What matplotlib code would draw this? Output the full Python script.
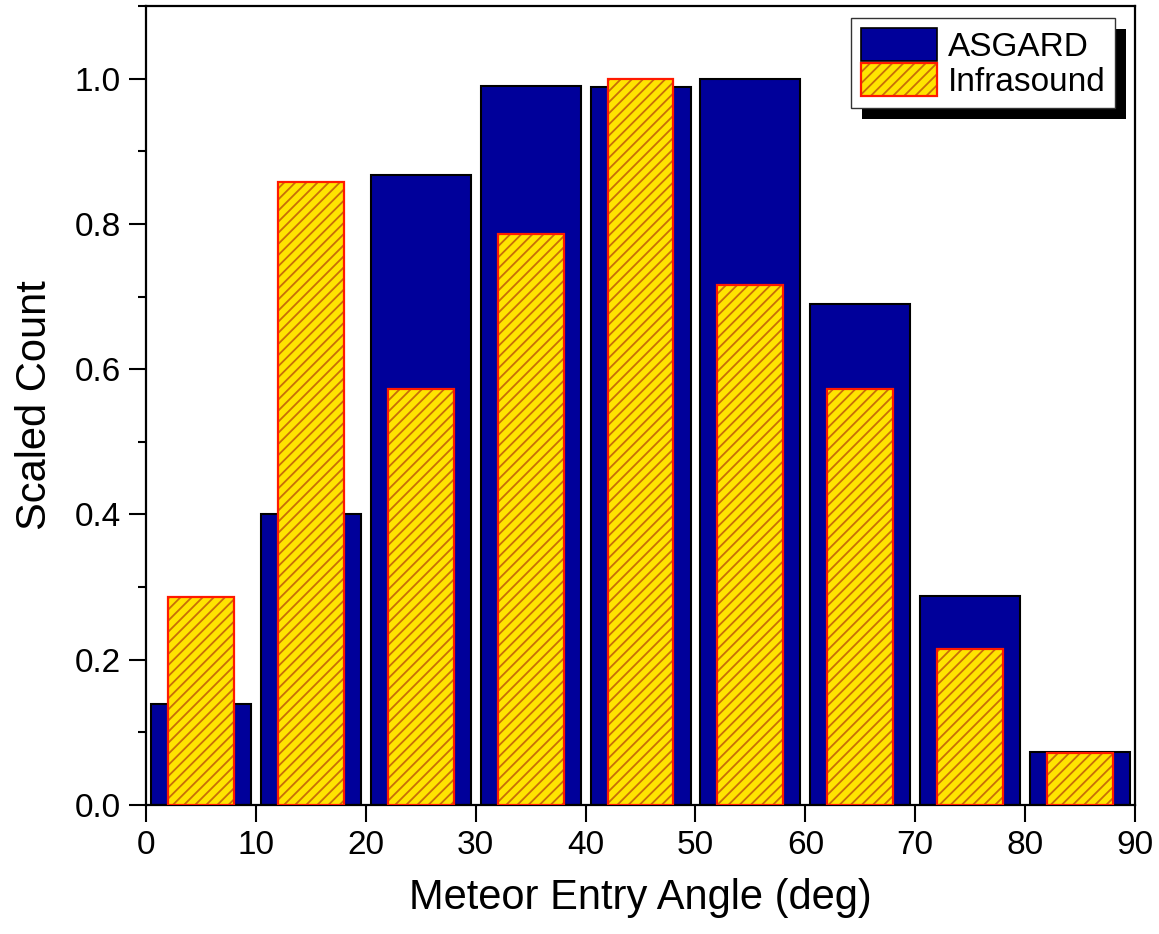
import matplotlib
matplotlib.use("Agg")
import matplotlib.pyplot as plt
from matplotlib.patches import Patch, Rectangle
from matplotlib.ticker import MultipleLocator
import numpy as np

plt.rcParams["font.family"] = ["Liberation Sans", "DejaVu Sans"]
plt.rcParams["hatch.linewidth"] = 1.3

# entry-angle bins (deg), 10 deg wide
bin_centers = [5, 15, 25, 35, 45, 55, 65, 75, 85]
asgard = [0.139, 0.401, 0.868, 0.990, 0.988, 1.000, 0.690, 0.288, 0.073]
infrasound = [0.286, 0.857, 0.573, 0.786, 1.000, 0.716, 0.573, 0.215, 0.072]

BLUE = "#00009A"
YELLOW = "#FFE400"
HATCH = "#C86E08"
RED = "#FF1A00"

fig = plt.figure(figsize=(11.59, 9.34), dpi=100)
ax = fig.add_axes([0.126, 0.1381, 0.8533, 0.8555])

x = np.array(bin_centers)
ax.bar(x, asgard, width=9.1, color=BLUE, edgecolor="black", linewidth=1.5, zorder=2)
# infrasound: hatched fill first, red outline on top
ax.bar(x, infrasound, width=6.0, color=YELLOW, edgecolor=HATCH, hatch="///",
       linewidth=0, zorder=3)
ax.bar(x, infrasound, width=6.0, fill=False, edgecolor=RED, linewidth=1.6, zorder=4)

ax.set_xlim(0, 90)
ax.set_ylim(0, 1.1)
ax.xaxis.set_major_locator(MultipleLocator(10))
ax.yaxis.set_major_locator(MultipleLocator(0.2))
ax.yaxis.set_minor_locator(MultipleLocator(0.1))
ax.yaxis.set_major_formatter(plt.FormatStrFormatter("%.1f"))
ax.tick_params(axis="both", which="major", direction="out", length=12, width=1.5,
               labelsize=24, pad=6, top=False, right=False)
ax.tick_params(axis="y", which="minor", direction="out", length=6, width=1.5)
for s in ax.spines.values():
    s.set_linewidth(1.6)

ax.set_xlabel("Meteor Entry Angle (deg)", fontsize=30, labelpad=12)
ax.set_ylabel("Scaled Count", fontsize=30, labelpad=14)

h_asgard = Patch(facecolor=BLUE, edgecolor="black", linewidth=1.2)
h_inf = (Patch(facecolor=YELLOW, edgecolor=HATCH, hatch="///", linewidth=0),
         Patch(fill=False, edgecolor=RED, linewidth=1.6))
leg = ax.legend([h_asgard, h_inf], ["ASGARD", "Infrasound"], loc="upper right",
                bbox_to_anchor=(0.980, 0.985), borderaxespad=0, fontsize=24,
                handlelength=2.3, handleheight=1.15, handletextpad=0.3,
                labelspacing=0.0, borderpad=0.3, fancybox=False, framealpha=1,
                edgecolor="#333333")
leg.get_frame().set_linewidth(1.0)
leg.set_zorder(6)

# solid drop shadow behind the legend box
fig.canvas.draw()
bb = leg.get_window_extent().transformed(fig.transFigure.inverted())
dx, dy = 11 / fig.bbox.width, 11 / fig.bbox.height
shadow = Rectangle((bb.x0 + dx, bb.y0 - dy), bb.width, bb.height, transform=fig.transFigure,
                   facecolor="black", edgecolor="none", zorder=5.5, clip_on=False)
ax.add_artist(shadow)

fig.savefig("out.png", dpi=100)
